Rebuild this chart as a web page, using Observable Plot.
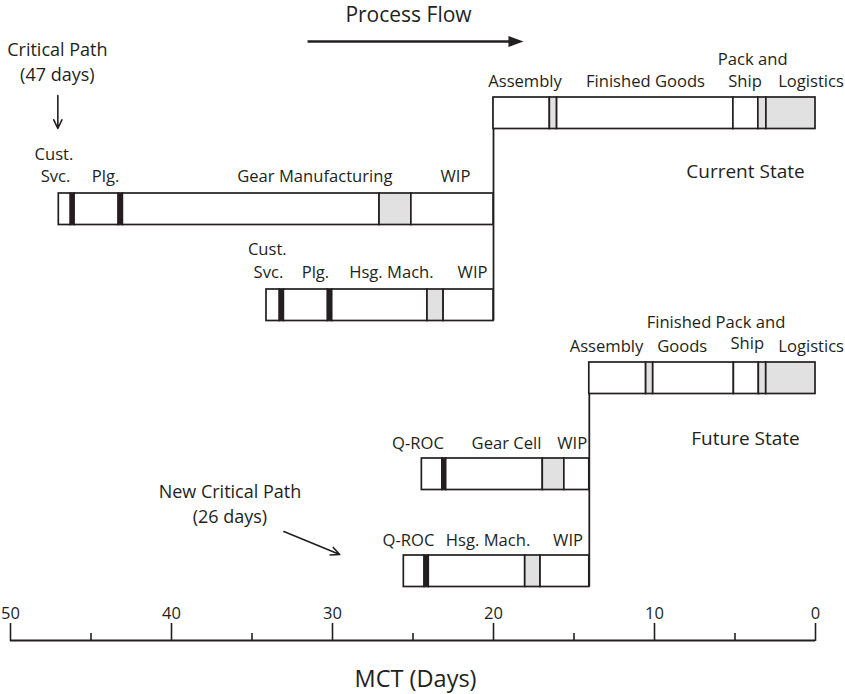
<!DOCTYPE html>
<html><head><meta charset="utf-8">
<script src="https://cdn.jsdelivr.net/npm/d3@7"></script>
<script src="https://cdn.jsdelivr.net/npm/@observablehq/plot@0.6"></script>
<style>html,body{margin:0;padding:0;background:#fff;} svg{display:block;}</style>
</head><body><div id="chart"></div>
<script>
// ---------- DATA (days of manufacturing critical-path time, MCT) ----------
const axisMajorTicks = [50, 40, 30, 20, 10, 0];
const axisMinorTicks = [45, 35, 25, 15, 5];

// Current state
const currentAssemblyDays  = [20, 16.5, 16.05, 5.1, 3.55, 3.05, 0];
const currentAssemblyShade = ["white", "gray", "white", "white", "gray", "gray"];
const currentGearDays      = [47, 46.25, 46.02, 43.28, 43.02, 27.08, 25.1, 20];
const currentGearShade     = ["white", "black", "white", "black", "white", "gray", "white"];
const currentHousingDays   = [34.1, 33.27, 33.02, 30.28, 30.02, 24.1, 23.1, 20];
const currentHousingShade  = ["white", "black", "white", "black", "white", "gray", "white"];

// Future state
const futureAssemblyDays   = [14.05, 10.52, 10.08, 5.07, 3.52, 3.06, 0];
const futureAssemblyShade  = ["white", "gray", "white", "white", "gray", "gray"];
const futureGearDays       = [24.45, 23.17, 22.94, 16.94, 15.6, 14.05];
const futureGearShade      = ["white", "black", "white", "gray", "white"];
const futureHousingDays    = [25.57, 24.28, 24.02, 18.03, 17.08, 14.05];
const futureHousingShade   = ["white", "black", "white", "gray", "white"];

const criticalPathDays = 47;
const newCriticalPathDays = 26;

// ---------- LAYOUT (vertical slots, label placement) ----------
const INK = "#231f20";
const palette = {white: "#ffffff", gray: "#e0e1e0", black: INK};
const BAR_H = 31.5;
const rowTop = {curAsm: 97, curGear: 193, curHsg: 289, futAsm: 362, futGear: 458, futHsg: 555};

function segs(row, days, shades) {
  return shades.map((s, i) => ({row, d0: days[i], d1: days[i + 1], shade: s}));
}
const segments = [
  ...segs("curAsm", currentAssemblyDays, currentAssemblyShade),
  ...segs("curGear", currentGearDays, currentGearShade),
  ...segs("curHsg", currentHousingDays, currentHousingShade),
  ...segs("futAsm", futureAssemblyDays, futureAssemblyShade),
  ...segs("futGear", futureGearDays, futureGearShade),
  ...segs("futHsg", futureHousingDays, futureHousingShade)
];

// connectors (flow joins into assembly)
const connectors = [
  {x: currentAssemblyDays[0], y1: rowTop.curAsm, y2: rowTop.curHsg + BAR_H},
  {x: futureAssemblyDays[0], y1: rowTop.futAsm, y2: rowTop.futHsg + BAR_H}
];

// segment labels: [text, center day, baseline]
const segLabels = [
  ["Assembly", 18.04, 86], ["Finished Goods", 10.56, 86], ["Pack and", 3.9, 64], ["Ship", 4.38, 86], ["Logistics", 0.28, 86],
  ["Cust.", 47.3, 159], ["Svc.", 47.2, 181], ["Plg.", 44.1, 181], ["Gear Manufacturing", 31.1, 181], ["WIP", 22.36, 181],
  ["Cust.", 34.05, 254], ["Svc.", 33.98, 277], ["Plg.", 31.06, 277], ["Hsg. Mach.", 26.34, 277], ["WIP", 21.3, 277],
  ["Finished", 8.48, 327], ["Pack and", 4.04, 327], ["Assembly", 12.98, 351], ["Goods", 8.28, 351], ["Ship", 4.24, 348], ["Logistics", 0.27, 351],
  ["Q-ROC", 24.69, 448], ["Gear Cell", 19.19, 448], ["WIP", 15.11, 448],
  ["Q-ROC", 25.28, 545], ["Hsg. Mach.", 20.34, 545], ["WIP", 15.37, 545]
].map(([text, x, y]) => ({text, x, y}));

const stateLabels = [
  ["Current State", 4.35, 177], ["Future State", 4.35, 444]
].map(([text, x, y]) => ({text, x, y}));

// two-line annotations (baseline of the last line)
const pathNotes = [
  [`Critical Path\n(${criticalPathDays} days)`, 47.09, 80],
  [`New Critical Path\n(${newCriticalPathDays} days)`, 36.37, 522]
].map(([text, x, y]) => ({text, x, y}));

const arrows = [
  {x1: 47.06, y1: 95, x2: 47.06, y2: 128},
  {x1: 33.02, y1: 531, x2: 29.55, y2: 554}
];

const flowArrow = [{x1: 31.55, x2: 18.7, y: 41}];
const flowHead = [{x: 18.14, y: 41}];

const headSymbol = {
  draw(ctx) { ctx.moveTo(0, 0); ctx.lineTo(-15, -5.5); ctx.lineTo(-15, 5.5); ctx.closePath(); }
};

const chart = Plot.plot({
  width: 845,
  height: 694,
  marginLeft: 10,
  marginRight: 30,
  marginTop: 640,
  marginBottom: 0,
  style: {fontFamily: "'Open Sans', sans-serif", color: INK, background: "#fff"},
  x: {domain: [50, 0], range: [10, 815]},
  y: {domain: [0, 694], range: [0, 694], axis: null},
  color: {type: "identity"},
  marks: [
    Plot.ruleX(connectors, {x: "x", y1: "y1", y2: "y2", stroke: INK, strokeWidth: 1.8}),
    Plot.rect(segments, {
      x1: "d0", x2: "d1",
      y1: d => rowTop[d.row], y2: d => rowTop[d.row] + BAR_H,
      fill: d => palette[d.shade], stroke: INK, strokeWidth: 1.7
    }),
    Plot.text(segLabels, {x: "x", y: "y", text: "text", fontSize: 16.6, textAnchor: "middle", lineAnchor: "bottom", fill: INK}),
    Plot.text(stateLabels, {x: "x", y: "y", text: "text", fontSize: 19, textAnchor: "middle", lineAnchor: "bottom", fill: INK}),
    Plot.text(pathNotes, {x: "x", y: "y", text: "text", fontSize: 18, lineHeight: 25 / 18, textAnchor: "middle", lineAnchor: "bottom", fill: INK}),
    Plot.text([{t: "Process Flow"}], {x: () => 25.28, y: () => 21, text: "t", fontSize: 21, textAnchor: "middle", lineAnchor: "bottom", fill: INK}),
    Plot.link(flowArrow, {x1: "x1", x2: "x2", y1: "y", y2: "y", stroke: INK, strokeWidth: 2.6}),
    Plot.dot(flowHead, {x: "x", y: "y", symbol: headSymbol, fill: INK, stroke: "none"}),
    Plot.arrow(arrows, {x1: "x1", y1: "y1", x2: "x2", y2: "y2", stroke: INK, strokeWidth: 1.6, headLength: 9, headAngle: 50}),
    // axis
    Plot.ruleY([640], {x1: 50, x2: 0, stroke: INK, strokeWidth: 1.8}),
    Plot.axisX({anchor: "top", ticks: axisMajorTicks, tickSize: 18, tickPadding: 4, fontSize: 16.5, label: null, stroke: INK, strokeWidth: 1.6, tickFormat: d => String(d)}),
    Plot.axisX({anchor: "top", ticks: axisMinorTicks, tickSize: 8, label: null, stroke: INK, strokeWidth: 1.6, tickFormat: () => ""}),
    Plot.text([{t: "MCT (Days)"}], {x: () => 24.84, y: () => 686, text: "t", fontSize: 23.5, textAnchor: "middle", lineAnchor: "bottom", fill: INK})
  ]
});
document.getElementById("chart").appendChild(chart);
</script></body></html>
